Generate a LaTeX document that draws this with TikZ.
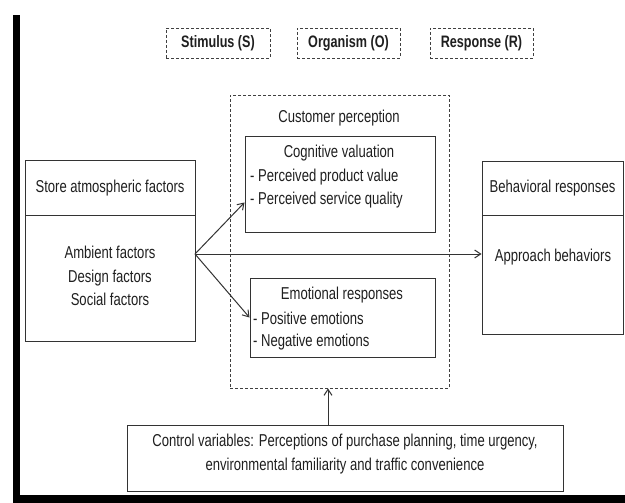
\documentclass[tikz,border=0pt]{standalone}
\usepackage{fontspec}
\setmainfont{Liberation Sans}[FakeStretch=0.76]
\usetikzlibrary{arrows.meta}
\begin{document}
\begin{tikzpicture}[x=1pt,y=-1pt,
  box/.style={draw=black!80, line width=1pt, inner sep=0pt},
  dbox/.style={draw=black!75, line width=0.9pt, dash pattern=on 3pt off 2pt, inner sep=0pt},
  txt/.style={text=black!88, font=\fontsize{17.2}{23.5}\selectfont, inner sep=0pt, align=center},
  btxt/.style={txt, font=\fontsize{16.6}{23.5}\selectfont\bfseries},
  arr/.style={draw=black!80, line width=1pt, -{Straight Barb[length=6pt,width=8pt]}}]
\useasboundingbox (0,0) rectangle (625,503);
% frame
\fill[black] (13,15) rectangle (20,503);
\fill[black] (13,495) rectangle (625,503);
% header boxes
\node[dbox, minimum width=104pt, minimum height=30pt] (stim) at (218,43) {};
\node[btxt] at (stim.center) {Stimulus (S)};
\node[dbox, minimum width=103pt, minimum height=30pt] (orgh) at (348.5,43) {};
\node[btxt] at (orgh.center) {Organism (O)};
\node[dbox, minimum width=103pt, minimum height=30pt] (resp) at (481.5,43) {};
\node[btxt] at (resp.center) {Response (R)};
% organism dashed box
\node[dbox, minimum width=219pt, minimum height=293pt] (org) at (339.5,241.5) {};
\node[txt] (cp) at (339,118) {Customer perception};
% store
\node[box, minimum width=170pt, minimum height=54pt] (storehead) at (110,188) {};
\node[txt] at (storehead.center) {Store atmospheric factors};
\node[box, minimum width=170pt, minimum height=126pt] (storebody) at (110,278) {};
\node[txt] at (110,276) {Ambient factors\\Design factors\\Social factors};
% cognitive
\node[box, minimum width=190pt, minimum height=95pt] (cog) at (340,184.5) {};
\node[txt] at (339,153) {Cognitive valuation};
\node[txt, anchor=west] at (250,177) {- Perceived product value};
\node[txt, anchor=west] at (250,200) {- Perceived service quality};
% emotional
\node[box, minimum width=185pt, minimum height=79pt] (emo) at (342.5,317.5) {};
\node[txt] at (342,295) {Emotional responses};
\node[txt, anchor=west] at (253,318) {- Positive emotions};
\node[txt, anchor=west] at (253,342) {- Negative emotions};
% behavioral
\node[box, minimum width=141pt, minimum height=53pt] (behhead) at (552.5,188.5) {};
\node[txt] at (behhead.center) {Behavioral responses};
\node[box, minimum width=141pt, minimum height=119pt] (behbody) at (552.5,274.5) {};
\node[txt] at (553,257) {Approach behaviors};
% control
\node[box, minimum width=436pt, minimum height=66pt] (ctrl) at (345,458) {};
\node[txt] at (345,454) {Control variables: Perceptions of purchase planning, time urgency,\\environmental familiarity and traffic convenience};
% connectors
\coordinate (src) at (195,254);
\coordinate (cx) at (328,0);
\draw[arr] (src) -- ([yshift=30pt]cog.south west);
\draw[arr] (src) -- (emo.west);
\draw[arr] (src) -- (behbody.west |- src);
\draw[arr] (ctrl.north -| cx) -- (org.south -| cx);
\end{tikzpicture}
\end{document}
